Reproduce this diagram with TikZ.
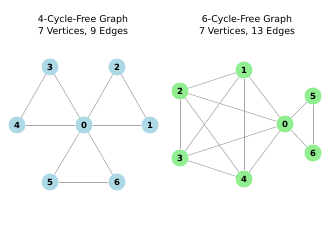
\documentclass[tikz,border=0pt]{standalone}
\usepackage{fontspec}
\setmainfont{DejaVu Sans}
\definecolor{vblue}{RGB}{173,216,230}
\definecolor{vgreen}{RGB}{144,238,144}
\tikzset{
  vtx/.style   ={circle, inner sep=0pt, minimum size=17pt, font=\fontsize{8.5}{9}\selectfont\bfseries},
  bvtx/.style  ={vtx, fill=vblue},
  gvtx/.style  ={vtx, fill=vgreen},
  edg/.style   ={draw=gray!70, line width=0.6pt},
  ttl/.style   ={align=center, font=\fontsize{9.4}{12}\selectfont},
}

\begin{document}
\begin{tikzpicture}[x=1pt, y=-1pt]
  \useasboundingbox (0,0) rectangle (330,235);
  % left graph
  \node[ttl] (t1) at (83,26) {4-Cycle-Free Graph\\7 Vertices, 9 Edges};
  \node[bvtx] (a0) at (84,125) {0};
  \node[bvtx] (a1) at (150,125) {1};
  \node[bvtx] (a2) at (117,67) {2};
  \node[bvtx] (a3) at (50,67) {3};
  \node[bvtx] (a4) at (17,125) {4};
  \node[bvtx] (a5) at (50,182) {5};
  \node[bvtx] (a6) at (117,182) {6};
  \foreach \u/\v in {0/1,0/2,1/2,0/3,0/4,3/4,0/5,0/6,5/6}
    \draw[edg] (a\u) -- (a\v);
  % right graph
  \node[ttl] (t2) at (247,26) {6-Cycle-Free Graph\\7 Vertices, 13 Edges};
  \node[gvtx] (b0) at (285,124) {0};
  \node[gvtx] (b1) at (244,70) {1};
  \node[gvtx] (b2) at (180,91) {2};
  \node[gvtx] (b3) at (180,158) {3};
  \node[gvtx] (b4) at (244,179) {4};
  \node[gvtx] (b5) at (313,96) {5};
  \node[gvtx] (b6) at (313,153) {6};
  \foreach \u/\v in {1/2,1/3,1/4,1/0,2/3,2/0,2/4,3/0,3/4,4/0,0/5,0/6,5/6}
    \draw[edg] (b\u) -- (b\v);
\end{tikzpicture}
\end{document}
